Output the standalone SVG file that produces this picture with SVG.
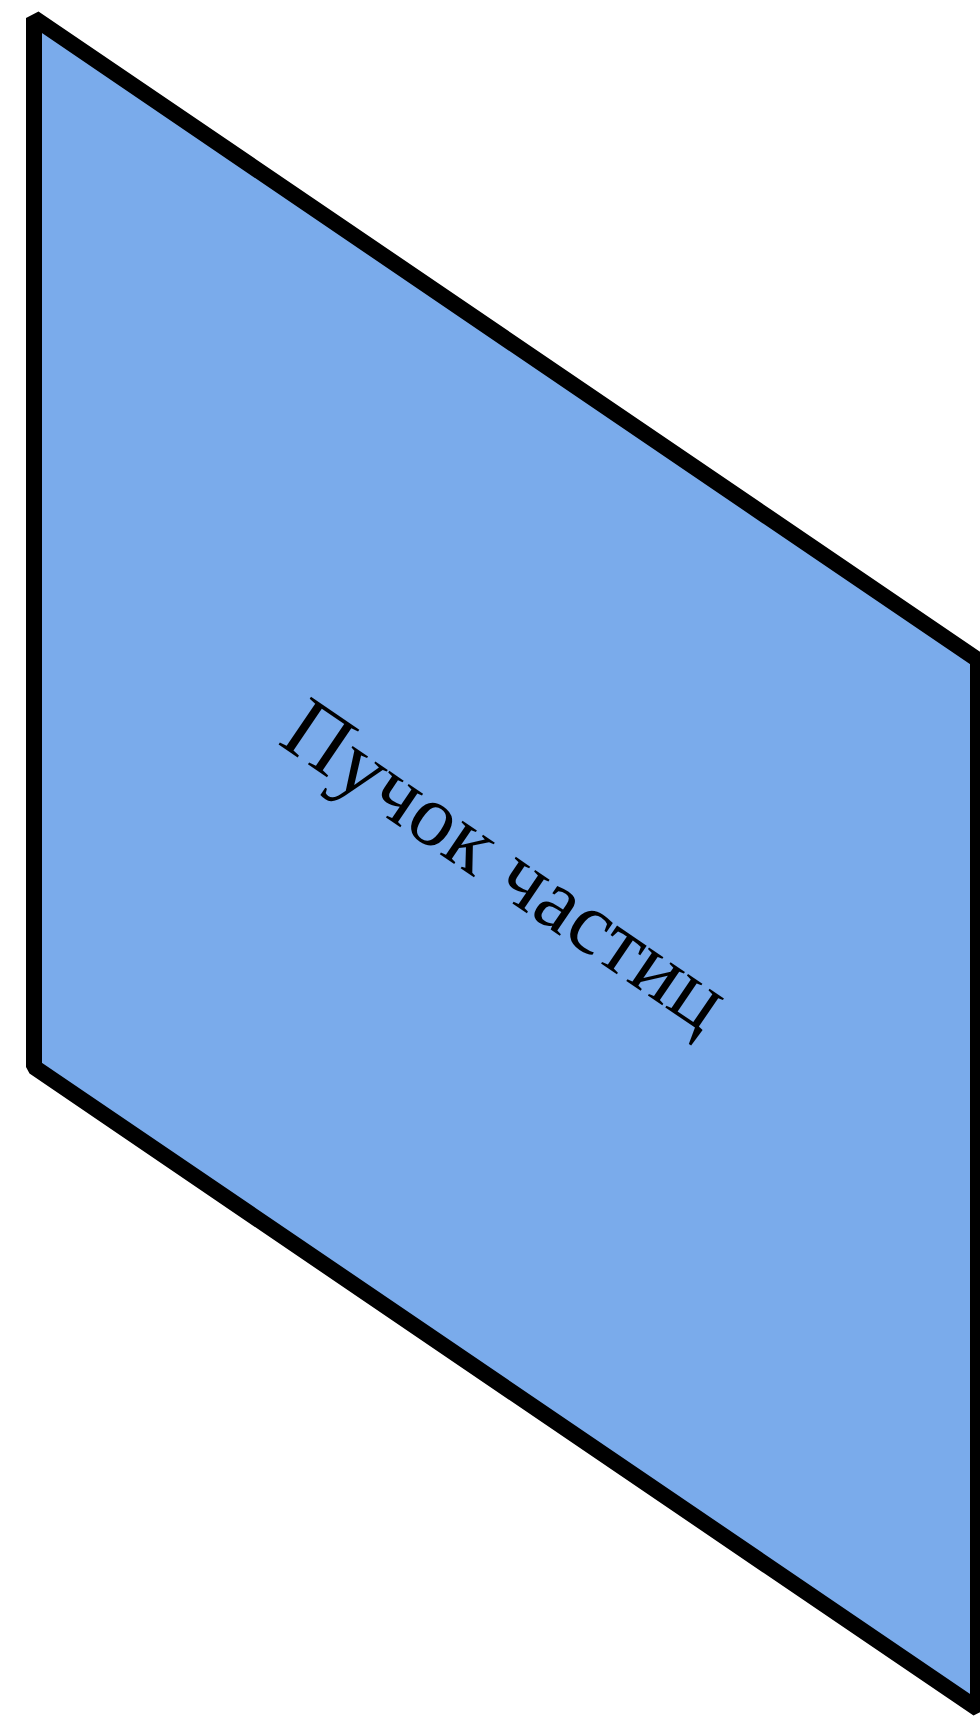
<svg xmlns="http://www.w3.org/2000/svg" width="980" height="1717" viewBox="0 0 980 1717">
<style>
.shape{fill:#7aabeb;stroke:#000;stroke-width:16;stroke-linejoin:bevel}
.lbl{font-family:"Liberation Serif","Times New Roman",serif;font-size:88px;fill:#000;text-anchor:middle}
</style>
<rect width="980" height="1717" fill="#fff"/>
<g id="beam">
<polygon class="shape" points="34,18 978,660 978,1709 34,1067"/>
<text class="lbl" x="506" y="893" transform="rotate(34.2 506 864)">Пучок частиц</text>
</g>
<g id="connectors"/>
</svg>
